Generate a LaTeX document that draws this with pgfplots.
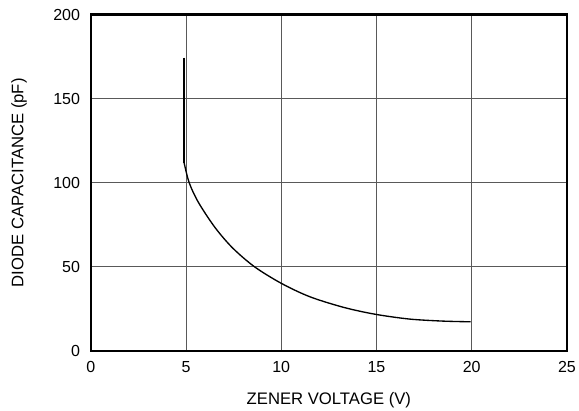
\documentclass[border=0pt]{standalone}
\usepackage{fontspec}
\setmainfont{Liberation Sans}
\usepackage{pgfplots}
\pgfplotsset{compat=1.18}
\begin{document}
\begin{tikzpicture}
\begin{axis}[
  at={(0,0)}, anchor=south west,
  scale only axis, width=357pt, height=252pt,
  xmin=0, xmax=25, ymin=0, ymax=200,
  xtick={0,5,...,25}, ytick={0,50,...,200},
  major tick length=0pt,
  grid=major,
  major grid style={line width=0.6pt, color=black!65},
  axis line style={line width=1.8pt},
  /pgf/number format/assume math mode=true,
  tick label style={font=\fontsize{12}{14}\selectfont},
  xticklabel style={yshift=-4.5pt},
  yticklabel style={xshift=-4.5pt},
  label style={font=\fontsize{12.5}{14}\selectfont},
  xlabel={ZENER VOLTAGE (V)},
  ylabel={DIODE CAPACITANCE (pF)},
  xlabel style={yshift=-8pt},
  ylabel style={yshift=13pt},
  clip=false,
]
\addplot[black, line width=1pt] coordinates {(4.9,174.5) (4.9,112)};
\addplot[black, line width=1pt, smooth, tension=0.5] coordinates {
(4.9,112) (5.17,100) (5.66,88.2) (6.53,73.3)
(7.45,61.2) (8.6,50) (10,40.2) (11.5,32.2) (13.3,25.8) (14.97,21.7)
(16.75,18.9) (18.5,17.7) (19.94,17.3)
};
\end{axis}
\pgfresetboundingbox
\path[use as bounding box] (-68pt,-44.5pt) rectangle (366pt,263pt);
\end{tikzpicture}
\end{document}
